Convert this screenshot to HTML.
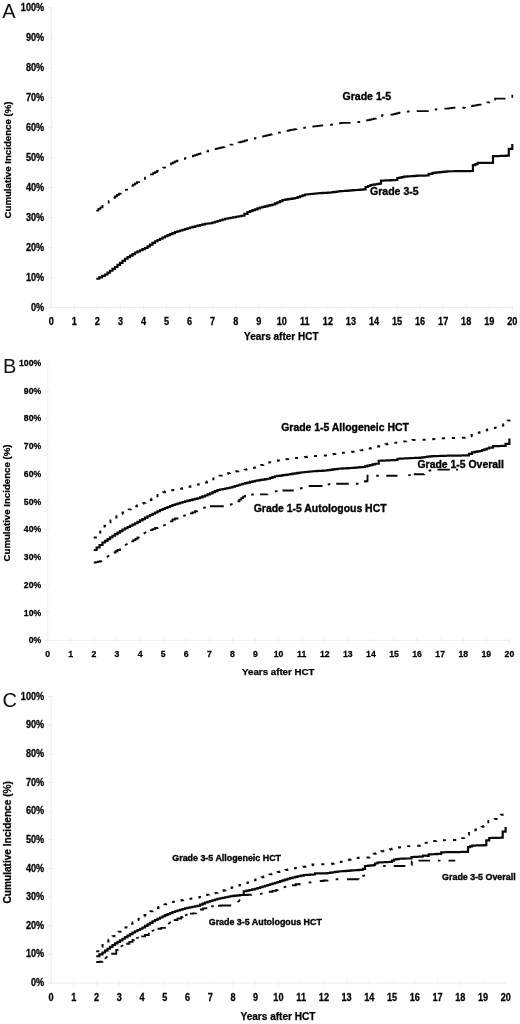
<!DOCTYPE html>
<html><head><meta charset="utf-8"><title>Cumulative incidence</title>
<style>html,body{margin:0;padding:0;background:#fff}body{width:520px;height:1024px;overflow:hidden;font-family:"Liberation Sans",sans-serif}svg{display:block;will-change:transform;opacity:.999}</style>
</head><body>
<svg width="520" height="1024" viewBox="0 0 520 1024">
<rect width="520" height="1024" fill="#fff"/>
<path d="M51.3 7.4V307.4H512.8" fill="none" stroke="#eaeaea" stroke-width="1"/>
<path d="M48.3 307.40H53.3M48.3 277.45H53.3M48.3 247.50H53.3M48.3 217.55H53.3M48.3 187.60H53.3M48.3 157.65H53.3M48.3 127.70H53.3M48.3 97.75H53.3M48.3 67.80H53.3M48.3 37.85H53.3M48.3 7.90H53.3M51.30 304.9V309.9M74.35 304.9V309.9M97.40 304.9V309.9M120.45 304.9V309.9M143.50 304.9V309.9M166.55 304.9V309.9M189.60 304.9V309.9M212.65 304.9V309.9M235.70 304.9V309.9M258.75 304.9V309.9M281.80 304.9V309.9M304.85 304.9V309.9M327.90 304.9V309.9M350.95 304.9V309.9M374.00 304.9V309.9M397.05 304.9V309.9M420.10 304.9V309.9M443.15 304.9V309.9M466.20 304.9V309.9M489.25 304.9V309.9M512.30 304.9V309.9" fill="none" stroke="#eeeeee" stroke-width="1"/>
<g font-family="Liberation Sans, sans-serif" font-weight="bold" font-size="9.15" fill="#000" stroke="#000" stroke-width="0.25">
<text transform="translate(44.2 306.90) scale(1 1.1)" y="3.28" text-anchor="end">0%</text>
<text transform="translate(44.2 276.95) scale(1 1.1)" y="3.28" text-anchor="end">10%</text>
<text transform="translate(44.2 247.00) scale(1 1.1)" y="3.28" text-anchor="end">20%</text>
<text transform="translate(44.2 217.05) scale(1 1.1)" y="3.28" text-anchor="end">30%</text>
<text transform="translate(44.2 187.10) scale(1 1.1)" y="3.28" text-anchor="end">40%</text>
<text transform="translate(44.2 157.15) scale(1 1.1)" y="3.28" text-anchor="end">50%</text>
<text transform="translate(44.2 127.20) scale(1 1.1)" y="3.28" text-anchor="end">60%</text>
<text transform="translate(44.2 97.25) scale(1 1.1)" y="3.28" text-anchor="end">70%</text>
<text transform="translate(44.2 67.30) scale(1 1.1)" y="3.28" text-anchor="end">80%</text>
<text transform="translate(44.2 37.35) scale(1 1.1)" y="3.28" text-anchor="end">90%</text>
<text transform="translate(44.2 7.40) scale(1 1.1)" y="3.28" text-anchor="end">100%</text>
<text transform="translate(51.30 321.2) scale(1 1.1)" y="3.28" text-anchor="middle">0</text>
<text transform="translate(74.35 321.2) scale(1 1.1)" y="3.28" text-anchor="middle">1</text>
<text transform="translate(97.40 321.2) scale(1 1.1)" y="3.28" text-anchor="middle">2</text>
<text transform="translate(120.45 321.2) scale(1 1.1)" y="3.28" text-anchor="middle">3</text>
<text transform="translate(143.50 321.2) scale(1 1.1)" y="3.28" text-anchor="middle">4</text>
<text transform="translate(166.55 321.2) scale(1 1.1)" y="3.28" text-anchor="middle">5</text>
<text transform="translate(189.60 321.2) scale(1 1.1)" y="3.28" text-anchor="middle">6</text>
<text transform="translate(212.65 321.2) scale(1 1.1)" y="3.28" text-anchor="middle">7</text>
<text transform="translate(235.70 321.2) scale(1 1.1)" y="3.28" text-anchor="middle">8</text>
<text transform="translate(258.75 321.2) scale(1 1.1)" y="3.28" text-anchor="middle">9</text>
<text transform="translate(281.80 321.2) scale(1 1.1)" y="3.28" text-anchor="middle">10</text>
<text transform="translate(304.85 321.2) scale(1 1.1)" y="3.28" text-anchor="middle">11</text>
<text transform="translate(327.90 321.2) scale(1 1.1)" y="3.28" text-anchor="middle">12</text>
<text transform="translate(350.95 321.2) scale(1 1.1)" y="3.28" text-anchor="middle">13</text>
<text transform="translate(374.00 321.2) scale(1 1.1)" y="3.28" text-anchor="middle">14</text>
<text transform="translate(397.05 321.2) scale(1 1.1)" y="3.28" text-anchor="middle">15</text>
<text transform="translate(420.10 321.2) scale(1 1.1)" y="3.28" text-anchor="middle">16</text>
<text transform="translate(443.15 321.2) scale(1 1.1)" y="3.28" text-anchor="middle">17</text>
<text transform="translate(466.20 321.2) scale(1 1.1)" y="3.28" text-anchor="middle">18</text>
<text transform="translate(489.25 321.2) scale(1 1.1)" y="3.28" text-anchor="middle">19</text>
<text transform="translate(512.30 321.2) scale(1 1.1)" y="3.28" text-anchor="middle">20</text>
</g>
<text font-family="Liberation Sans, sans-serif" font-weight="bold" font-size="10.0" fill="#000" stroke="#000" stroke-width="0.25" x="281.3" y="340.3" text-anchor="middle">Years after HCT</text>
<text font-family="Liberation Sans, sans-serif" font-weight="bold" font-size="9.66" fill="#000" stroke="#000" stroke-width="0.25" text-anchor="middle" transform="translate(11.06 160) rotate(-90)">Cumulative Incidence (%)</text>
<text font-family="Liberation Sans, sans-serif" font-size="20" fill="#111" x="2.2" y="18.4">A</text>
<polyline points="96.25,210.50 98.33,210.50 98.33,208.92 100.42,208.92 100.42,207.33 102.50,207.33 102.50,205.75 104.58,205.75 104.58,204.17 106.67,204.17 106.67,202.58 108.75,202.58 108.75,201.00 110.83,201.00 110.83,199.42 112.92,199.42 112.92,197.83 115.00,197.83 115.00,196.25 117.00,196.25 117.00,194.95 119.00,194.95 119.00,193.65 121.00,193.65 121.00,192.35 123.00,192.35 123.00,191.05 125.00,191.05 125.00,189.75 127.00,189.75 127.00,188.45 129.00,188.45 129.00,187.15 131.00,187.15 131.00,185.85 133.00,185.85 133.00,184.55 135.00,184.55 135.00,183.25 137.00,183.25 137.00,182.12 139.00,182.12 139.00,181.00 141.00,181.00 141.00,179.88 143.00,179.88 143.00,178.75 145.00,178.75 145.00,177.62 147.00,177.62 147.00,176.50 149.00,176.50 149.00,175.38 151.00,175.38 151.00,174.25 153.00,174.25 153.00,173.12 155.00,173.12 155.00,172.00 157.00,172.00 157.00,170.93 159.00,170.93 159.00,169.85 161.00,169.85 161.00,168.78 163.00,168.78 163.00,167.70 165.00,167.70 165.00,166.62 167.00,166.62 167.00,165.55 169.00,165.55 169.00,164.47 171.00,164.47 171.00,163.40 173.00,163.40 173.00,162.32 175.00,162.32 175.00,161.25 177.00,161.25 177.00,160.62 179.00,160.62 179.00,160.00 181.00,160.00 181.00,159.38 183.00,159.38 183.00,158.75 185.00,158.75 185.00,158.12 187.00,158.12 187.00,157.50 189.00,157.50 189.00,156.88 191.00,156.88 191.00,156.25 193.00,156.25 193.00,155.62 195.00,155.62 195.00,155.00 196.88,155.00 196.88,154.38 198.75,154.38 198.75,153.75 200.62,153.75 200.62,153.12 202.50,153.12 202.50,152.50 204.38,152.50 204.38,151.88 206.25,151.88 206.25,151.25 208.12,151.25 208.12,150.62 210.00,150.62 210.00,150.00 212.08,150.00 212.08,149.50 214.17,149.50 214.17,149.00 216.25,149.00 216.25,148.50 218.33,148.50 218.33,148.00 220.42,148.00 220.42,147.50 222.50,147.50 222.50,147.00 224.50,147.00 224.50,146.43 226.50,146.43 226.50,145.85 228.50,145.85 228.50,145.28 230.50,145.28 230.50,144.70 232.50,144.70 232.50,144.12 234.50,144.12 234.50,143.55 236.50,143.55 236.50,142.97 238.50,142.97 238.50,142.40 240.50,142.40 240.50,141.82 242.50,141.82 242.50,141.25 244.58,141.25 244.58,140.73 246.67,140.73 246.67,140.21 248.75,140.21 248.75,139.69 250.83,139.69 250.83,139.17 252.92,139.17 252.92,138.65 255.00,138.65 255.00,138.12 257.08,138.12 257.08,137.60 259.17,137.60 259.17,137.08 261.25,137.08 261.25,136.56 263.33,136.56 263.33,136.04 265.42,136.04 265.42,135.52 267.50,135.52 267.50,135.00 269.58,135.00 269.58,134.54 271.67,134.54 271.67,134.08 273.75,134.08 273.75,133.62 275.83,133.62 275.83,133.17 277.92,133.17 277.92,132.71 280.00,132.71 280.00,132.25 282.08,132.25 282.08,131.79 284.17,131.79 284.17,131.33 286.25,131.33 286.25,130.88 288.33,130.88 288.33,130.42 290.42,130.42 290.42,129.96 292.50,129.96 292.50,129.50 294.58,129.50 294.58,129.19 296.67,129.19 296.67,128.88 298.75,128.88 298.75,128.56 300.83,128.56 300.83,128.25 302.92,128.25 302.92,127.94 305.00,127.94 305.00,127.62 307.08,127.62 307.08,127.31 309.17,127.31 309.17,127.00 311.25,127.00 311.25,126.69 313.33,126.69 313.33,126.38 315.42,126.38 315.42,126.06 317.50,126.06 317.50,125.75 319.58,125.75 319.58,125.59 321.67,125.59 321.67,125.43 323.75,125.43 323.75,125.28 325.83,125.28 325.83,125.12 327.92,125.12 327.92,124.96 330.00,124.96 330.00,124.80 332.00,124.80 332.00,124.44 334.00,124.44 334.00,124.08 336.00,124.08 336.00,123.72 338.00,123.72 338.00,123.36 340.00,123.36 340.00,123.00 341.84,123.00 341.84,122.98 343.68,122.98 343.68,122.96 345.52,122.96 345.52,122.94 347.36,122.94 347.36,122.92 349.20,122.92 349.20,122.90 351.12,122.90 351.12,122.70 353.04,122.70 353.04,122.50 354.96,122.50 354.96,122.30 356.88,122.30 356.88,122.10 358.80,122.10 358.80,121.90 360.98,121.90 360.98,121.43 363.15,121.43 363.15,120.95 365.32,120.95 365.32,120.47 367.50,120.47 367.50,120.00 369.62,120.00 369.62,119.50 371.75,119.50 371.75,119.00 373.88,119.00 373.88,118.50 376.00,118.50 376.00,118.00 378.00,118.00 378.00,117.07 380.00,117.07 380.00,116.13 382.00,116.13 382.00,115.20 383.90,115.20 383.90,115.08 385.80,115.08 385.80,114.96 387.70,114.96 387.70,114.84 389.60,114.84 389.60,114.72 391.50,114.72 391.50,114.60 393.43,114.60 393.43,114.12 395.35,114.12 395.35,113.65 397.27,113.65 397.27,113.17 399.20,113.17 399.20,112.70 401.06,112.70 401.06,112.42 402.92,112.42 402.92,112.14 404.78,112.14 404.78,111.86 406.64,111.86 406.64,111.58 408.50,111.58 408.50,111.30 410.75,111.30 410.75,111.22 413.00,111.22 413.00,111.15 415.25,111.15 415.25,111.08 417.50,111.08 417.50,111.00 419.54,111.00 419.54,111.00 421.58,111.00 421.58,111.00 423.62,111.00 423.62,111.00 425.66,111.00 425.66,111.00 427.70,111.00 427.70,111.00 429.85,111.00 429.85,110.50 432.00,110.50 432.00,110.00 434.15,110.00 434.15,109.50 436.30,109.50 436.30,109.00 438.24,109.00 438.24,108.90 440.18,108.90 440.18,108.80 442.12,108.80 442.12,108.70 444.06,108.70 444.06,108.60 446.00,108.60 446.00,108.50 447.92,108.50 447.92,108.30 449.84,108.30 449.84,108.10 451.76,108.10 451.76,107.90 453.68,107.90 453.68,107.70 455.60,107.70 455.60,107.50 457.52,107.50 457.52,107.58 459.44,107.58 459.44,107.66 461.36,107.66 461.36,107.74 463.28,107.74 463.28,107.82 465.20,107.82 465.20,107.90 467.12,107.90 467.12,107.33 469.05,107.33 469.05,106.75 470.97,106.75 470.97,106.17 472.90,106.17 472.90,105.60 475.05,105.60 475.05,105.25 477.20,105.25 477.20,104.90 479.35,104.90 479.35,104.55 481.50,104.55 481.50,104.20 483.43,104.20 483.43,103.58 485.35,103.58 485.35,102.95 487.27,102.95 487.27,102.33 489.20,102.33 489.20,101.70 491.13,101.70 491.13,100.63 493.07,100.63 493.07,99.57 495.00,99.57 495.00,98.50 496.92,98.50 496.92,98.50 498.83,98.50 498.83,98.50 500.75,98.50 500.75,98.50 502.67,98.50 502.67,98.50 504.58,98.50 504.58,98.50 506.50,98.50 506.50,98.50 508.43,98.50 508.43,98.43 510.37,98.43 510.37,98.37 512.30,98.37 512.30,98.30 512.30,93.50" fill="none" stroke="#0a0a0a" stroke-width="1.75" stroke-linejoin="miter" stroke-dasharray="12 7.5 3 7.5"/>
<polyline points="96.25,278.75 99.17,278.75 99.17,277.33 102.08,277.33 102.08,275.92 105.00,275.92 105.00,274.50 107.50,274.50 107.50,272.62 110.00,272.62 110.00,270.75 112.50,270.75 112.50,268.88 115.00,268.88 115.00,267.00 117.50,267.00 117.50,264.94 120.00,264.94 120.00,262.88 122.50,262.88 122.50,260.81 125.00,260.81 125.00,258.75 127.50,258.75 127.50,257.19 130.00,257.19 130.00,255.62 132.50,255.62 132.50,254.06 135.00,254.06 135.00,252.50 137.50,252.50 137.50,251.38 140.00,251.38 140.00,250.25 142.50,250.25 142.50,249.12 145.00,249.12 145.00,248.00 147.50,248.00 147.50,246.31 150.00,246.31 150.00,244.62 152.50,244.62 152.50,242.94 155.00,242.94 155.00,241.25 157.50,241.25 157.50,240.00 160.00,240.00 160.00,238.75 162.50,238.75 162.50,237.50 165.00,237.50 165.00,236.25 167.50,236.25 167.50,235.19 170.00,235.19 170.00,234.12 172.50,234.12 172.50,233.06 175.00,233.06 175.00,232.00 177.50,232.00 177.50,231.25 180.00,231.25 180.00,230.50 182.50,230.50 182.50,229.75 185.00,229.75 185.00,229.00 187.50,229.00 187.50,228.25 190.00,228.25 190.00,227.50 192.50,227.50 192.50,226.88 195.00,226.88 195.00,226.25 197.50,226.25 197.50,225.62 200.00,225.62 200.00,225.00 202.50,225.00 202.50,224.38 205.00,224.38 205.00,223.75 207.50,223.75 207.50,223.50 210.00,223.50 210.00,223.25 212.50,223.25 212.50,222.50 215.00,222.50 215.00,221.75 217.50,221.75 217.50,221.00 220.00,221.00 220.00,220.25 222.50,220.25 222.50,219.50 225.00,219.50 225.00,218.75 227.71,218.75 227.71,218.25 230.42,218.25 230.42,217.75 233.12,217.75 233.12,217.25 235.83,217.25 235.83,216.75 238.54,216.75 238.54,216.25 241.25,216.25 241.25,215.75 244.38,215.75 244.38,213.88 247.50,213.88 247.50,212.00 250.00,212.00 250.00,211.10 252.50,211.10 252.50,210.20 255.00,210.20 255.00,209.30 257.50,209.30 257.50,208.40 260.00,208.40 260.00,207.50 262.50,207.50 262.50,206.90 265.00,206.90 265.00,206.30 267.50,206.30 267.50,205.70 270.00,205.70 270.00,205.10 272.50,205.10 272.50,204.50 275.00,204.50 275.00,203.38 277.50,203.38 277.50,202.25 280.00,202.25 280.00,201.12 282.50,201.12 282.50,200.00 285.00,200.00 285.00,199.60 287.50,199.60 287.50,199.20 290.00,199.20 290.00,198.80 292.50,198.80 292.50,198.40 295.00,198.40 295.00,198.00 297.50,198.00 297.50,197.12 300.00,197.12 300.00,196.25 302.50,196.25 302.50,195.38 305.00,195.38 305.00,194.50 307.50,194.50 307.50,194.25 310.00,194.25 310.00,194.00 312.50,194.00 312.50,193.75 315.00,193.75 315.00,193.50 317.50,193.50 317.50,193.25 320.00,193.25 320.00,193.10 322.50,193.10 322.50,192.95 325.00,192.95 325.00,192.80 327.50,192.80 327.50,192.65 330.00,192.65 330.00,192.50 332.40,192.50 332.40,192.18 334.80,192.18 334.80,191.85 337.20,191.85 337.20,191.52 339.60,191.52 339.60,191.20 342.28,191.20 342.28,191.00 344.96,191.00 344.96,190.80 347.64,190.80 347.64,190.60 350.32,190.60 350.32,190.40 353.00,190.40 353.00,190.20 355.52,190.20 355.52,190.00 358.04,190.00 358.04,189.80 360.56,189.80 360.56,189.60 363.08,189.60 363.08,189.40 365.60,189.40 365.60,189.20 365.60,187.00 368.00,187.00 368.00,186.00 370.40,186.00 370.40,185.00 372.80,185.00 372.80,184.62 375.20,184.62 375.20,184.25 377.60,184.25 377.60,183.88 380.00,183.88 380.00,183.50 381.00,183.50 381.00,180.60 383.40,180.60 383.40,180.50 385.80,180.50 385.80,180.40 388.20,180.40 388.20,180.30 390.60,180.30 390.60,180.20 393.00,180.20 393.00,180.10 395.40,180.10 395.40,180.00 397.30,180.00 397.30,178.00 399.53,178.00 399.53,177.57 401.77,177.57 401.77,177.13 404.00,177.13 404.00,176.70 406.65,176.70 406.65,176.47 409.30,176.47 409.30,176.25 411.95,176.25 411.95,176.03 414.60,176.03 414.60,175.80 417.22,175.80 417.22,175.72 419.84,175.72 419.84,175.64 422.46,175.64 422.46,175.56 425.08,175.56 425.08,175.48 427.70,175.48 427.70,175.40 428.70,175.40 428.70,173.80 432.50,173.80 432.50,172.90 434.92,172.90 434.92,172.63 437.33,172.63 437.33,172.37 439.75,172.37 439.75,172.10 442.17,172.10 442.17,171.83 444.58,171.83 444.58,171.57 447.00,171.57 447.00,171.30 449.56,171.30 449.56,171.27 452.11,171.27 452.11,171.23 454.67,171.23 454.67,171.20 457.22,171.20 457.22,171.17 459.78,171.17 459.78,171.13 462.33,171.13 462.33,171.10 464.89,171.10 464.89,171.07 467.44,171.07 467.44,171.03 470.00,171.03 470.00,171.00 472.90,171.00 472.90,165.20 475.30,165.20 475.30,164.05 477.70,164.05 477.70,162.90 480.46,162.90 480.46,162.90 483.22,162.90 483.22,162.90 485.98,162.90 485.98,162.90 488.74,162.90 488.74,162.90 491.50,162.90 491.50,162.90 493.00,162.90 493.00,156.20 495.63,156.20 495.63,156.10 498.27,156.10 498.27,156.00 500.90,156.00 500.90,155.90 503.53,155.90 503.53,155.80 506.17,155.80 506.17,155.70 508.80,155.70 508.80,155.60 508.80,148.80 512.30,148.80 512.30,148.50 512.30,144.00" fill="none" stroke="#0a0a0a" stroke-width="2.2" stroke-linejoin="miter"/>
<text font-family="Liberation Sans, sans-serif" font-weight="bold" font-size="10.55" fill="#000" stroke="#000" stroke-width="0.35" x="342.5" y="99.8">Grade 1-5</text>
<text font-family="Liberation Sans, sans-serif" font-weight="bold" font-size="10.55" fill="#000" stroke="#000" stroke-width="0.35" x="370" y="195.4">Grade 3-5</text>
<path d="M47.7 362.4V640.4H509.9" fill="none" stroke="#efefef" stroke-width="1"/>
<path d="M44.7 640.40H49.7M44.7 612.65H49.7M44.7 584.90H49.7M44.7 557.15H49.7M44.7 529.40H49.7M44.7 501.65H49.7M44.7 473.90H49.7M44.7 446.15H49.7M44.7 418.40H49.7M44.7 390.65H49.7M44.7 362.90H49.7M47.70 637.9V642.9M70.78 637.9V642.9M93.87 637.9V642.9M116.95 637.9V642.9M140.04 637.9V642.9M163.12 637.9V642.9M186.21 637.9V642.9M209.30 637.9V642.9M232.38 637.9V642.9M255.47 637.9V642.9M278.55 637.9V642.9M301.63 637.9V642.9M324.72 637.9V642.9M347.81 637.9V642.9M370.89 637.9V642.9M393.98 637.9V642.9M417.06 637.9V642.9M440.14 637.9V642.9M463.23 637.9V642.9M486.31 637.9V642.9M509.40 637.9V642.9" fill="none" stroke="#eeeeee" stroke-width="1"/>
<g font-family="Liberation Sans, sans-serif" font-weight="bold" font-size="8.68" fill="#000" stroke="#000" stroke-width="0.25">
<text transform="translate(41.2 639.90) scale(1 1.1)" y="3.11" text-anchor="end">0%</text>
<text transform="translate(41.2 612.15) scale(1 1.1)" y="3.11" text-anchor="end">10%</text>
<text transform="translate(41.2 584.40) scale(1 1.1)" y="3.11" text-anchor="end">20%</text>
<text transform="translate(41.2 556.65) scale(1 1.1)" y="3.11" text-anchor="end">30%</text>
<text transform="translate(41.2 528.90) scale(1 1.1)" y="3.11" text-anchor="end">40%</text>
<text transform="translate(41.2 501.15) scale(1 1.1)" y="3.11" text-anchor="end">50%</text>
<text transform="translate(41.2 473.40) scale(1 1.1)" y="3.11" text-anchor="end">60%</text>
<text transform="translate(41.2 445.65) scale(1 1.1)" y="3.11" text-anchor="end">70%</text>
<text transform="translate(41.2 417.90) scale(1 1.1)" y="3.11" text-anchor="end">80%</text>
<text transform="translate(41.2 390.15) scale(1 1.1)" y="3.11" text-anchor="end">90%</text>
<text transform="translate(41.2 362.40) scale(1 1.1)" y="3.11" text-anchor="end">100%</text>
<text transform="translate(47.70 653.8) scale(1 1.1)" y="3.11" text-anchor="middle">0</text>
<text transform="translate(70.78 653.8) scale(1 1.1)" y="3.11" text-anchor="middle">1</text>
<text transform="translate(93.87 653.8) scale(1 1.1)" y="3.11" text-anchor="middle">2</text>
<text transform="translate(116.95 653.8) scale(1 1.1)" y="3.11" text-anchor="middle">3</text>
<text transform="translate(140.04 653.8) scale(1 1.1)" y="3.11" text-anchor="middle">4</text>
<text transform="translate(163.12 653.8) scale(1 1.1)" y="3.11" text-anchor="middle">5</text>
<text transform="translate(186.21 653.8) scale(1 1.1)" y="3.11" text-anchor="middle">6</text>
<text transform="translate(209.30 653.8) scale(1 1.1)" y="3.11" text-anchor="middle">7</text>
<text transform="translate(232.38 653.8) scale(1 1.1)" y="3.11" text-anchor="middle">8</text>
<text transform="translate(255.47 653.8) scale(1 1.1)" y="3.11" text-anchor="middle">9</text>
<text transform="translate(278.55 653.8) scale(1 1.1)" y="3.11" text-anchor="middle">10</text>
<text transform="translate(301.63 653.8) scale(1 1.1)" y="3.11" text-anchor="middle">11</text>
<text transform="translate(324.72 653.8) scale(1 1.1)" y="3.11" text-anchor="middle">12</text>
<text transform="translate(347.81 653.8) scale(1 1.1)" y="3.11" text-anchor="middle">13</text>
<text transform="translate(370.89 653.8) scale(1 1.1)" y="3.11" text-anchor="middle">14</text>
<text transform="translate(393.98 653.8) scale(1 1.1)" y="3.11" text-anchor="middle">15</text>
<text transform="translate(417.06 653.8) scale(1 1.1)" y="3.11" text-anchor="middle">16</text>
<text transform="translate(440.14 653.8) scale(1 1.1)" y="3.11" text-anchor="middle">17</text>
<text transform="translate(463.23 653.8) scale(1 1.1)" y="3.11" text-anchor="middle">18</text>
<text transform="translate(486.31 653.8) scale(1 1.1)" y="3.11" text-anchor="middle">19</text>
<text transform="translate(509.40 653.8) scale(1 1.1)" y="3.11" text-anchor="middle">20</text>
</g>
<text font-family="Liberation Sans, sans-serif" font-weight="bold" font-size="9.73" fill="#000" stroke="#000" stroke-width="0.25" x="278.3" y="675" text-anchor="middle">Years after HCT</text>
<text font-family="Liberation Sans, sans-serif" font-weight="bold" font-size="9.66" fill="#000" stroke="#000" stroke-width="0.25" text-anchor="middle" transform="translate(9.96 503) rotate(-90)">Cumulative Incidence (%)</text>
<text font-family="Liberation Sans, sans-serif" font-size="20" fill="#111" x="3.0" y="372.7">B</text>
<polyline points="93.75,537.50 95.94,537.50 95.94,535.00 98.12,535.00 98.12,532.50 100.31,532.50 100.31,530.00 102.50,530.00 102.50,527.50 104.50,527.50 104.50,525.75 106.50,525.75 106.50,524.00 108.50,524.00 108.50,522.25 110.50,522.25 110.50,520.50 112.50,520.50 112.50,518.75 114.50,518.75 114.50,517.50 116.50,517.50 116.50,516.25 118.50,516.25 118.50,515.00 120.50,515.00 120.50,513.75 122.50,513.75 122.50,512.50 124.58,512.50 124.58,511.46 126.67,511.46 126.67,510.42 128.75,510.42 128.75,509.38 130.83,509.38 130.83,508.33 132.92,508.33 132.92,507.29 135.00,507.29 135.00,506.25 137.08,506.25 137.08,505.42 139.17,505.42 139.17,504.58 141.25,504.58 141.25,503.75 143.33,503.75 143.33,502.92 145.42,502.92 145.42,502.08 147.50,502.08 147.50,501.25 149.50,501.25 149.50,500.00 151.50,500.00 151.50,498.75 153.50,498.75 153.50,497.50 155.50,497.50 155.50,496.25 157.50,496.25 157.50,495.00 159.38,495.00 159.38,494.06 161.25,494.06 161.25,493.12 163.12,493.12 163.12,492.19 165.00,492.19 165.00,491.25 166.88,491.25 166.88,490.94 168.75,490.94 168.75,490.62 170.62,490.62 170.62,490.31 172.50,490.31 172.50,490.00 174.38,490.00 174.38,489.69 176.25,489.69 176.25,489.38 178.12,489.38 178.12,489.06 180.00,489.06 180.00,488.75 182.08,488.75 182.08,488.25 184.17,488.25 184.17,487.75 186.25,487.75 186.25,487.25 188.33,487.25 188.33,486.75 190.42,486.75 190.42,486.25 192.50,486.25 192.50,485.75 194.58,485.75 194.58,485.21 196.67,485.21 196.67,484.67 198.75,484.67 198.75,484.12 200.83,484.12 200.83,483.58 202.92,483.58 202.92,483.04 205.00,483.04 205.00,482.50 207.08,482.50 207.08,481.46 209.17,481.46 209.17,480.42 211.25,480.42 211.25,479.38 213.33,479.38 213.33,478.33 215.42,478.33 215.42,477.29 217.50,477.29 217.50,476.25 219.58,476.25 219.58,475.62 221.67,475.62 221.67,475.00 223.75,475.00 223.75,474.38 225.83,474.38 225.83,473.75 227.92,473.75 227.92,473.12 230.00,473.12 230.00,472.50 232.08,472.50 232.08,472.08 234.17,472.08 234.17,471.67 236.25,471.67 236.25,471.25 238.33,471.25 238.33,470.83 240.42,470.83 240.42,470.42 242.50,470.42 242.50,470.00 244.58,470.00 244.58,469.58 246.67,469.58 246.67,469.17 248.75,469.17 248.75,468.75 250.83,468.75 250.83,468.33 252.92,468.33 252.92,467.92 255.00,467.92 255.00,467.50 257.08,467.50 257.08,466.67 259.17,466.67 259.17,465.83 261.25,465.83 261.25,465.00 263.33,465.00 263.33,464.17 265.42,464.17 265.42,463.33 267.50,463.33 267.50,462.50 269.58,462.50 269.58,462.08 271.67,462.08 271.67,461.67 273.75,461.67 273.75,461.25 275.83,461.25 275.83,460.83 277.92,460.83 277.92,460.42 280.00,460.42 280.00,460.00 282.08,460.00 282.08,459.71 284.17,459.71 284.17,459.42 286.25,459.42 286.25,459.12 288.33,459.12 288.33,458.83 290.42,458.83 290.42,458.54 292.50,458.54 292.50,458.25 294.58,458.25 294.58,458.04 296.67,458.04 296.67,457.83 298.75,457.83 298.75,457.62 300.83,457.62 300.83,457.42 302.92,457.42 302.92,457.21 305.00,457.21 305.00,457.00 307.08,457.00 307.08,456.79 309.17,456.79 309.17,456.58 311.25,456.58 311.25,456.38 313.33,456.38 313.33,456.17 315.42,456.17 315.42,455.96 317.50,455.96 317.50,455.75 319.38,455.75 319.38,455.69 321.25,455.69 321.25,455.62 323.12,455.62 323.12,455.56 325.00,455.56 325.00,455.50 327.08,455.50 327.08,455.12 329.17,455.12 329.17,454.75 331.25,454.75 331.25,454.38 333.33,454.38 333.33,454.00 335.42,454.00 335.42,453.62 337.50,453.62 337.50,453.25 339.58,453.25 339.58,453.04 341.67,453.04 341.67,452.83 343.75,452.83 343.75,452.62 345.83,452.62 345.83,452.42 347.92,452.42 347.92,452.21 350.00,452.21 350.00,452.00 352.08,452.00 352.08,451.67 354.17,451.67 354.17,451.33 356.25,451.33 356.25,451.00 358.33,451.00 358.33,450.67 360.42,450.67 360.42,450.33 362.50,450.33 362.50,450.00 364.58,450.00 364.58,449.50 366.67,449.50 366.67,449.00 368.75,449.00 368.75,448.50 370.83,448.50 370.83,448.00 372.92,448.00 372.92,447.50 375.00,447.50 375.00,447.00 377.08,447.00 377.08,446.46 379.17,446.46 379.17,445.92 381.25,445.92 381.25,445.38 383.33,445.38 383.33,444.83 385.42,444.83 385.42,444.29 387.50,444.29 387.50,443.75 389.58,443.75 389.58,443.46 391.67,443.46 391.67,443.17 393.75,443.17 393.75,442.88 395.83,442.88 395.83,442.58 397.92,442.58 397.92,442.29 400.00,442.29 400.00,442.00 402.08,442.00 402.08,441.67 404.17,441.67 404.17,441.33 406.25,441.33 406.25,441.00 408.33,441.00 408.33,440.67 410.42,440.67 410.42,440.33 412.50,440.33 412.50,440.00 414.38,440.00 414.38,440.00 416.25,440.00 416.25,440.00 418.12,440.00 418.12,440.00 420.00,440.00 420.00,440.00 421.92,440.00 421.92,439.88 423.84,439.88 423.84,439.76 425.76,439.76 425.76,439.64 427.68,439.64 427.68,439.52 429.60,439.52 429.60,439.40 431.52,439.40 431.52,439.22 433.44,439.22 433.44,439.04 435.36,439.04 435.36,438.86 437.28,438.86 437.28,438.68 439.20,438.68 439.20,438.50 441.12,438.50 441.12,438.40 443.04,438.40 443.04,438.30 444.96,438.30 444.96,438.20 446.88,438.20 446.88,438.10 448.80,438.10 448.80,438.00 450.74,438.00 450.74,438.00 452.68,438.00 452.68,438.00 454.62,438.00 454.62,438.00 456.56,438.00 456.56,438.00 458.50,438.00 458.50,438.00 460.62,438.00 460.62,437.88 462.75,437.88 462.75,437.75 464.88,437.75 464.88,437.62 467.00,437.62 467.00,437.50 469.27,437.50 469.27,436.23 471.53,436.23 471.53,434.97 473.80,434.97 473.80,433.70 475.73,433.70 475.73,433.20 477.65,433.20 477.65,432.70 479.57,432.70 479.57,432.20 481.50,432.20 481.50,431.70 483.43,431.70 483.43,430.98 485.35,430.98 485.35,430.25 487.27,430.25 487.27,429.52 489.20,429.52 489.20,428.80 491.12,428.80 491.12,428.42 493.04,428.42 493.04,428.04 494.96,428.04 494.96,427.66 496.88,427.66 496.88,427.28 498.80,427.28 498.80,426.90 501.07,426.90 501.07,425.60 503.33,425.60 503.33,424.30 505.60,424.30 505.60,423.00 507.50,423.00 507.50,420.65 509.40,420.65 509.40,418.30" fill="none" stroke="#0a0a0a" stroke-width="1.9" stroke-linejoin="miter" stroke-dasharray="3.2 7.2"/>
<path d="M93.75 562.50L95.83 562.50L95.83 562.08L97.92 562.08L97.92 561.67L100.00 561.67L100.00 561.25L101.25 561.25L101.25 560.47M113.75 552.50L115.62 552.50L115.62 551.25L117.50 551.25L117.50 550.00L120.00 550.00L120.00 548.44M131.25 541.41L133.33 541.41L133.33 540.10L135.42 540.10L135.42 538.80L137.50 538.80L137.50 537.50L138.75 537.50L138.75 536.72M150.00 530.17L152.50 530.17L152.50 529.08L155.00 529.08L155.00 528.00L157.50 528.00L157.50 527.25M170.00 521.33L172.50 521.33L172.50 519.50L175.00 519.50L175.00 518.50L177.50 518.50L177.50 517.50L177.50 517.50M190.00 513.38L192.50 513.38L192.50 512.31L195.00 512.31L195.00 511.25L197.00 511.25L197.00 510.50M210.00 506.25L210.00 506.25L211.96 506.25L211.96 506.25L213.93 506.25L213.93 506.25L215.89 506.25L215.89 506.25L217.86 506.25L217.86 506.25L219.82 506.25L219.82 506.25L221.79 506.25L221.79 506.25L223.75 506.25L223.75 506.25L223.75 506.25M237.50 501.25L237.50 501.25L239.38 501.25L239.38 499.69L241.25 499.69L241.25 498.12L243.12 498.12L243.12 496.56L245.00 496.56L245.00 495.00L245.00 495.00M260.00 494.40L261.88 494.40L261.88 494.38L263.75 494.38L263.75 494.35L265.62 494.35L265.62 494.32L267.50 494.32L267.50 494.30L267.50 494.30M282.50 490.50L282.50 490.50L284.38 490.50L284.38 490.50L286.25 490.50L286.25 490.50L288.12 490.50L288.12 490.50L290.00 490.50L290.00 490.50L291.88 490.50L291.88 490.50L293.75 490.50L293.75 490.50L293.75 490.50M308.75 486.00L308.75 486.00L310.71 486.00L310.71 486.00L312.68 486.00L312.68 486.00L314.64 486.00L314.64 486.00L316.61 486.00L316.61 486.00L318.57 486.00L318.57 486.00L320.54 486.00L320.54 486.00L322.50 486.00L322.50 486.00L322.50 486.00M336.25 483.75L338.33 483.75L338.33 483.75L340.42 483.75L340.42 483.75L342.50 483.75L342.50 483.75L344.58 483.75L344.58 483.75L346.67 483.75L346.67 483.75L348.75 483.75L348.75 483.75M364.00 481.58L365.00 481.58L365.00 481.25L367.50 481.25L367.50 475.75L368.50 475.75L368.50 475.75M386.25 475.75L388.12 475.75L388.12 475.75L390.00 475.75L390.00 475.75L391.88 475.75L391.88 475.75L393.75 475.75L393.75 475.75L395.62 475.75L395.62 475.75L397.50 475.75L397.50 475.75M413.75 474.25L413.75 474.25L415.75 474.25L415.75 474.25L417.75 474.25L417.75 474.25L419.75 474.25L419.75 474.25L421.75 474.25L421.75 474.25L423.75 474.25L423.75 474.25L424.00 474.25L424.00 474.09M437.50 469.60L437.50 469.60L439.55 469.60L439.55 469.60L441.60 469.60L441.60 469.60L443.65 469.60L443.65 469.60L445.70 469.60L445.70 469.60L447.75 469.60L447.75 469.60L449.80 469.60L449.80 469.60M106.70 557.06L109.30 555.44M124.95 545.34L127.50 543.75L127.55 543.72M143.70 533.62L146.30 532.00M163.20 525.54L165.00 525.00L165.80 524.41M183.20 515.98L185.00 515.50L185.80 515.16M203.20 508.18L205.00 507.50L205.80 507.30M229.95 504.75L231.00 504.50L232.55 503.73M251.20 494.59L252.50 494.50L253.80 494.48M274.95 491.63L276.00 491.25L277.55 491.07M299.95 488.58L301.00 488.25L302.55 487.80M327.70 484.61L330.00 484.00L330.30 483.99M355.90 483.75L357.50 483.75L358.50 483.42M376.20 475.75L378.80 475.75M408.20 475.32L410.80 474.82M428.70 471.02L429.50 470.50L431.30 470.30M456.00 469.60L458.00 469.60" fill="none" stroke="#0a0a0a" stroke-width="1.85" stroke-linejoin="miter"/>
<polyline points="93.75,550.00 96.67,550.00 96.67,547.50 99.58,547.50 99.58,545.00 102.50,545.00 102.50,542.50 105.00,542.50 105.00,540.81 107.50,540.81 107.50,539.12 110.00,539.12 110.00,537.44 112.50,537.44 112.50,535.75 115.00,535.75 115.00,534.19 117.50,534.19 117.50,532.62 120.00,532.62 120.00,531.06 122.50,531.06 122.50,529.50 125.00,529.50 125.00,528.25 127.50,528.25 127.50,527.00 130.00,527.00 130.00,525.75 132.50,525.75 132.50,524.50 135.00,524.50 135.00,523.25 137.50,523.25 137.50,521.85 140.00,521.85 140.00,520.45 142.50,520.45 142.50,519.05 145.00,519.05 145.00,517.65 147.50,517.65 147.50,516.25 150.00,516.25 150.00,515.00 152.50,515.00 152.50,513.75 155.00,513.75 155.00,512.50 157.50,512.50 157.50,511.25 160.00,511.25 160.00,510.00 162.50,510.00 162.50,509.00 165.00,509.00 165.00,508.00 167.50,508.00 167.50,507.00 170.00,507.00 170.00,506.00 172.50,506.00 172.50,505.00 175.00,505.00 175.00,504.25 177.50,504.25 177.50,503.50 180.00,503.50 180.00,502.75 182.50,502.75 182.50,502.00 185.00,502.00 185.00,501.25 187.50,501.25 187.50,500.65 190.00,500.65 190.00,500.05 192.50,500.05 192.50,499.45 195.00,499.45 195.00,498.85 197.50,498.85 197.50,498.25 200.00,498.25 200.00,497.33 202.50,497.33 202.50,496.42 205.00,496.42 205.00,495.50 207.50,495.50 207.50,494.40 210.00,494.40 210.00,493.30 212.50,493.30 212.50,492.20 215.00,492.20 215.00,491.10 217.50,491.10 217.50,490.00 220.00,490.00 220.00,489.50 222.50,489.50 222.50,489.00 225.00,489.00 225.00,488.50 227.50,488.50 227.50,488.00 230.00,488.00 230.00,487.50 232.50,487.50 232.50,486.75 235.00,486.75 235.00,486.00 237.50,486.00 237.50,485.25 240.00,485.25 240.00,484.50 242.50,484.50 242.50,483.75 245.00,483.75 245.00,483.15 247.50,483.15 247.50,482.55 250.00,482.55 250.00,481.95 252.50,481.95 252.50,481.35 255.00,481.35 255.00,480.75 257.50,480.75 257.50,480.35 260.00,480.35 260.00,479.95 262.50,479.95 262.50,479.55 265.00,479.55 265.00,479.15 267.50,479.15 267.50,478.75 270.00,478.75 270.00,477.92 272.50,477.92 272.50,477.08 275.00,477.08 275.00,476.25 277.50,476.25 277.50,475.90 280.00,475.90 280.00,475.55 282.50,475.55 282.50,475.20 285.00,475.20 285.00,474.85 287.50,474.85 287.50,474.50 290.00,474.50 290.00,474.10 292.50,474.10 292.50,473.70 295.00,473.70 295.00,473.30 297.50,473.30 297.50,472.90 300.00,472.90 300.00,472.50 302.50,472.50 302.50,472.25 305.00,472.25 305.00,472.00 307.50,472.00 307.50,471.75 310.00,471.75 310.00,471.50 312.50,471.50 312.50,471.25 315.00,471.25 315.00,471.10 317.50,471.10 317.50,470.95 320.00,470.95 320.00,470.80 322.50,470.80 322.50,470.65 325.00,470.65 325.00,470.50 327.50,470.50 327.50,470.15 330.00,470.15 330.00,469.80 332.50,469.80 332.50,469.45 335.00,469.45 335.00,469.10 337.50,469.10 337.50,468.75 340.00,468.75 340.00,468.60 342.50,468.60 342.50,468.45 345.00,468.45 345.00,468.30 347.50,468.30 347.50,468.15 350.00,468.15 350.00,468.00 352.50,468.00 352.50,467.80 355.00,467.80 355.00,467.60 357.50,467.60 357.50,467.40 360.00,467.40 360.00,467.20 362.50,467.20 362.50,467.00 365.00,467.00 365.00,466.35 367.50,466.35 367.50,465.70 370.00,465.70 370.00,465.05 372.50,465.05 372.50,464.40 375.00,464.40 375.00,463.75 378.75,463.75 378.75,460.75 381.46,460.75 381.46,460.62 384.17,460.62 384.17,460.50 386.88,460.50 386.88,460.38 389.58,460.38 389.58,460.25 392.29,460.25 392.29,460.12 395.00,460.12 395.00,460.00 397.50,460.00 397.50,458.75 400.00,458.75 400.00,458.62 402.50,458.62 402.50,458.50 405.00,458.50 405.00,458.38 407.50,458.38 407.50,458.25 410.00,458.25 410.00,458.12 412.50,458.12 412.50,458.00 415.00,458.00 415.00,457.90 417.50,457.90 417.50,457.80 420.00,457.80 420.00,457.70 422.40,457.70 422.40,457.35 424.80,457.35 424.80,457.00 427.20,457.00 427.20,456.65 429.60,456.65 429.60,456.30 432.28,456.30 432.28,456.20 434.96,456.20 434.96,456.10 437.64,456.10 437.64,456.00 440.32,456.00 440.32,455.90 443.00,455.90 443.00,455.80 445.56,455.80 445.56,455.76 448.11,455.76 448.11,455.71 450.67,455.71 450.67,455.67 453.22,455.67 453.22,455.62 455.78,455.62 455.78,455.58 458.33,455.58 458.33,455.53 460.89,455.53 460.89,455.49 463.44,455.49 463.44,455.44 466.00,455.44 466.00,455.40 469.00,455.40 469.00,453.85 472.00,453.85 472.00,452.30 474.53,452.30 474.53,451.87 477.07,451.87 477.07,451.43 479.60,451.43 479.60,451.00 482.00,451.00 482.00,450.18 484.40,450.18 484.40,449.35 486.80,449.35 486.80,448.52 489.20,448.52 489.20,447.70 493.00,447.70 493.00,446.20 495.90,446.20 495.90,446.10 498.80,446.10 498.80,446.00 501.70,446.00 501.70,445.90 504.60,445.90 504.60,445.80 505.60,445.80 505.60,443.80 509.40,443.80 509.40,443.80 509.40,438.50" fill="none" stroke="#0a0a0a" stroke-width="2.2" stroke-linejoin="miter"/>
<text font-family="Liberation Sans, sans-serif" font-weight="bold" font-size="10.43" fill="#000" stroke="#000" stroke-width="0.35" x="281.25" y="431.25">Grade 1-5 Allogeneic HCT</text>
<text font-family="Liberation Sans, sans-serif" font-weight="bold" font-size="10.43" fill="#000" stroke="#000" stroke-width="0.35" x="417.5" y="467.7">Grade 1-5 Overall</text>
<text font-family="Liberation Sans, sans-serif" font-weight="bold" font-size="10.43" fill="#000" stroke="#000" stroke-width="0.35" x="253.75" y="512.3">Grade 1-5 Autologous HCT</text>
<path d="M51.0 696.0V983.0H506.3" fill="none" stroke="#eaeaea" stroke-width="1"/>
<path d="M48.0 983.00H53.0M48.0 954.35H53.0M48.0 925.70H53.0M48.0 897.05H53.0M48.0 868.40H53.0M48.0 839.75H53.0M48.0 811.10H53.0M48.0 782.45H53.0M48.0 753.80H53.0M48.0 725.15H53.0M48.0 696.50H53.0M51.00 980.5V985.5M73.74 980.5V985.5M96.48 980.5V985.5M119.22 980.5V985.5M141.96 980.5V985.5M164.70 980.5V985.5M187.44 980.5V985.5M210.18 980.5V985.5M232.92 980.5V985.5M255.66 980.5V985.5M278.40 980.5V985.5M301.14 980.5V985.5M323.88 980.5V985.5M346.62 980.5V985.5M369.36 980.5V985.5M392.10 980.5V985.5M414.84 980.5V985.5M437.58 980.5V985.5M460.32 980.5V985.5M483.06 980.5V985.5M505.80 980.5V985.5" fill="none" stroke="#eeeeee" stroke-width="1"/>
<g font-family="Liberation Sans, sans-serif" font-weight="bold" font-size="9.15" fill="#000" stroke="#000" stroke-width="0.25">
<text transform="translate(44.2 982.50) scale(1 1.1)" y="3.28" text-anchor="end">0%</text>
<text transform="translate(44.2 953.85) scale(1 1.1)" y="3.28" text-anchor="end">10%</text>
<text transform="translate(44.2 925.20) scale(1 1.1)" y="3.28" text-anchor="end">20%</text>
<text transform="translate(44.2 896.55) scale(1 1.1)" y="3.28" text-anchor="end">30%</text>
<text transform="translate(44.2 867.90) scale(1 1.1)" y="3.28" text-anchor="end">40%</text>
<text transform="translate(44.2 839.25) scale(1 1.1)" y="3.28" text-anchor="end">50%</text>
<text transform="translate(44.2 810.60) scale(1 1.1)" y="3.28" text-anchor="end">60%</text>
<text transform="translate(44.2 781.95) scale(1 1.1)" y="3.28" text-anchor="end">70%</text>
<text transform="translate(44.2 753.30) scale(1 1.1)" y="3.28" text-anchor="end">80%</text>
<text transform="translate(44.2 724.65) scale(1 1.1)" y="3.28" text-anchor="end">90%</text>
<text transform="translate(44.2 696.00) scale(1 1.1)" y="3.28" text-anchor="end">100%</text>
<text transform="translate(51.00 997.4) scale(1 1.1)" y="3.28" text-anchor="middle">0</text>
<text transform="translate(73.74 997.4) scale(1 1.1)" y="3.28" text-anchor="middle">1</text>
<text transform="translate(96.48 997.4) scale(1 1.1)" y="3.28" text-anchor="middle">2</text>
<text transform="translate(119.22 997.4) scale(1 1.1)" y="3.28" text-anchor="middle">3</text>
<text transform="translate(141.96 997.4) scale(1 1.1)" y="3.28" text-anchor="middle">4</text>
<text transform="translate(164.70 997.4) scale(1 1.1)" y="3.28" text-anchor="middle">5</text>
<text transform="translate(187.44 997.4) scale(1 1.1)" y="3.28" text-anchor="middle">6</text>
<text transform="translate(210.18 997.4) scale(1 1.1)" y="3.28" text-anchor="middle">7</text>
<text transform="translate(232.92 997.4) scale(1 1.1)" y="3.28" text-anchor="middle">8</text>
<text transform="translate(255.66 997.4) scale(1 1.1)" y="3.28" text-anchor="middle">9</text>
<text transform="translate(278.40 997.4) scale(1 1.1)" y="3.28" text-anchor="middle">10</text>
<text transform="translate(301.14 997.4) scale(1 1.1)" y="3.28" text-anchor="middle">11</text>
<text transform="translate(323.88 997.4) scale(1 1.1)" y="3.28" text-anchor="middle">12</text>
<text transform="translate(346.62 997.4) scale(1 1.1)" y="3.28" text-anchor="middle">13</text>
<text transform="translate(369.36 997.4) scale(1 1.1)" y="3.28" text-anchor="middle">14</text>
<text transform="translate(392.10 997.4) scale(1 1.1)" y="3.28" text-anchor="middle">15</text>
<text transform="translate(414.84 997.4) scale(1 1.1)" y="3.28" text-anchor="middle">16</text>
<text transform="translate(437.58 997.4) scale(1 1.1)" y="3.28" text-anchor="middle">17</text>
<text transform="translate(460.32 997.4) scale(1 1.1)" y="3.28" text-anchor="middle">18</text>
<text transform="translate(483.06 997.4) scale(1 1.1)" y="3.28" text-anchor="middle">19</text>
<text transform="translate(505.80 997.4) scale(1 1.1)" y="3.28" text-anchor="middle">20</text>
</g>
<text font-family="Liberation Sans, sans-serif" font-weight="bold" font-size="10.07" fill="#000" stroke="#000" stroke-width="0.25" x="278" y="1019.75" text-anchor="middle">Years after HCT</text>
<text font-family="Liberation Sans, sans-serif" font-weight="bold" font-size="10.1" fill="#000" stroke="#000" stroke-width="0.25" text-anchor="middle" transform="translate(11.42 842.3) rotate(-90)">Cumulative Incidence (%)</text>
<text font-family="Liberation Sans, sans-serif" font-size="20" fill="#111" x="2.4" y="706.6">C</text>
<polyline points="96.25,951.25 98.33,951.25 98.33,949.17 100.42,949.17 100.42,947.08 102.50,947.08 102.50,945.00 104.50,945.00 104.50,943.25 106.50,943.25 106.50,941.50 108.50,941.50 108.50,939.75 110.50,939.75 110.50,938.00 112.50,938.00 112.50,936.25 114.50,936.25 114.50,934.75 116.50,934.75 116.50,933.25 118.50,933.25 118.50,931.75 120.50,931.75 120.50,930.25 122.50,930.25 122.50,928.75 124.50,928.75 124.50,927.50 126.50,927.50 126.50,926.25 128.50,926.25 128.50,925.00 130.50,925.00 130.50,923.75 132.50,923.75 132.50,922.50 134.50,922.50 134.50,921.25 136.50,921.25 136.50,920.00 138.50,920.00 138.50,918.75 140.50,918.75 140.50,917.50 142.50,917.50 142.50,916.25 144.50,916.25 144.50,915.00 146.50,915.00 146.50,913.75 148.50,913.75 148.50,912.50 150.50,912.50 150.50,911.25 152.50,911.25 152.50,910.00 154.50,910.00 154.50,909.00 156.50,909.00 156.50,908.00 158.50,908.00 158.50,907.00 160.50,907.00 160.50,906.00 162.50,906.00 162.50,905.00 164.38,905.00 164.38,904.38 166.25,904.38 166.25,903.75 168.12,903.75 168.12,903.12 170.00,903.12 170.00,902.50 171.88,902.50 171.88,902.12 173.75,902.12 173.75,901.75 175.62,901.75 175.62,901.38 177.50,901.38 177.50,901.00 179.38,901.00 179.38,900.62 181.25,900.62 181.25,900.25 183.12,900.25 183.12,899.88 185.00,899.88 185.00,899.50 187.08,899.50 187.08,899.17 189.17,899.17 189.17,898.83 191.25,898.83 191.25,898.50 193.33,898.50 193.33,898.17 195.42,898.17 195.42,897.83 197.50,897.83 197.50,897.50 199.38,897.50 199.38,896.88 201.25,896.88 201.25,896.25 203.12,896.25 203.12,895.62 205.00,895.62 205.00,895.00 207.08,895.00 207.08,894.58 209.17,894.58 209.17,894.17 211.25,894.17 211.25,893.75 213.33,893.75 213.33,893.33 215.42,893.33 215.42,892.92 217.50,892.92 217.50,892.50 219.50,892.50 219.50,891.75 221.50,891.75 221.50,891.00 223.50,891.00 223.50,890.25 225.50,890.25 225.50,889.50 227.50,889.50 227.50,888.75 229.50,888.75 229.50,888.10 231.50,888.10 231.50,887.45 233.50,887.45 233.50,886.80 235.50,886.80 235.50,886.15 237.50,886.15 237.50,885.50 239.50,885.50 239.50,884.90 241.50,884.90 241.50,884.30 243.50,884.30 243.50,883.70 245.50,883.70 245.50,883.10 247.50,883.10 247.50,882.50 249.50,882.50 249.50,881.75 251.50,881.75 251.50,881.00 253.50,881.00 253.50,880.25 255.50,880.25 255.50,879.50 257.50,879.50 257.50,878.75 259.50,878.75 259.50,878.00 261.50,878.00 261.50,877.25 263.50,877.25 263.50,876.50 265.50,876.50 265.50,875.75 267.50,875.75 267.50,875.00 269.50,875.00 269.50,874.40 271.50,874.40 271.50,873.80 273.50,873.80 273.50,873.20 275.50,873.20 275.50,872.60 277.50,872.60 277.50,872.00 279.50,872.00 279.50,871.50 281.50,871.50 281.50,871.00 283.50,871.00 283.50,870.50 285.50,870.50 285.50,870.00 287.50,870.00 287.50,869.50 289.50,869.50 289.50,869.10 291.50,869.10 291.50,868.70 293.50,868.70 293.50,868.30 295.50,868.30 295.50,867.90 297.50,867.90 297.50,867.50 299.50,867.50 299.50,867.25 301.50,867.25 301.50,867.00 303.50,867.00 303.50,866.75 305.50,866.75 305.50,866.50 307.50,866.50 307.50,866.25 310.00,866.25 310.00,865.38 312.50,865.38 312.50,864.50 314.50,864.50 314.50,864.44 316.50,864.44 316.50,864.38 318.50,864.38 318.50,864.32 320.50,864.32 320.50,864.26 322.50,864.26 322.50,864.20 324.38,864.20 324.38,864.20 326.25,864.20 326.25,864.20 328.12,864.20 328.12,864.20 330.00,864.20 330.00,864.20 331.88,864.20 331.88,863.78 333.75,863.78 333.75,863.35 335.62,863.35 335.62,862.92 337.50,862.92 337.50,862.50 339.38,862.50 339.38,862.06 341.25,862.06 341.25,861.62 343.12,861.62 343.12,861.19 345.00,861.19 345.00,860.75 346.88,860.75 346.88,860.25 348.75,860.25 348.75,859.75 350.62,859.75 350.62,859.25 352.50,859.25 352.50,858.75 354.38,858.75 354.38,858.44 356.25,858.44 356.25,858.12 358.12,858.12 358.12,857.81 360.00,857.81 360.00,857.50 361.88,857.50 361.88,857.50 363.75,857.50 363.75,857.50 365.62,857.50 365.62,857.50 367.50,857.50 367.50,857.50 369.58,857.50 369.58,856.25 371.67,856.25 371.67,855.00 373.75,855.00 373.75,853.75 375.62,853.75 375.62,853.12 377.50,853.12 377.50,852.50 379.38,852.50 379.38,851.88 381.25,851.88 381.25,851.25 383.44,851.25 383.44,850.75 385.62,850.75 385.62,850.25 387.81,850.25 387.81,849.75 390.00,849.75 390.00,849.25 391.88,849.25 391.88,848.81 393.75,848.81 393.75,848.38 395.62,848.38 395.62,847.94 397.50,847.94 397.50,847.50 399.38,847.50 399.38,847.19 401.25,847.19 401.25,846.88 403.12,846.88 403.12,846.56 405.00,846.56 405.00,846.25 406.88,846.25 406.88,846.17 408.75,846.17 408.75,846.09 410.62,846.09 410.62,846.01 412.50,846.01 412.50,845.92 414.38,845.92 414.38,845.84 416.25,845.84 416.25,845.76 418.12,845.76 418.12,845.68 420.00,845.68 420.00,845.60 422.23,845.60 422.23,844.23 424.47,844.23 424.47,842.87 426.70,842.87 426.70,841.50 428.62,841.50 428.62,841.36 430.54,841.36 430.54,841.22 432.46,841.22 432.46,841.08 434.38,841.08 434.38,840.94 436.30,840.94 436.30,840.80 438.24,840.80 438.24,840.64 440.18,840.64 440.18,840.48 442.12,840.48 442.12,840.32 444.06,840.32 444.06,840.16 446.00,840.16 446.00,840.00 447.92,840.00 447.92,840.00 449.84,840.00 449.84,840.00 451.76,840.00 451.76,840.00 453.68,840.00 453.68,840.00 455.60,840.00 455.60,840.00 457.75,840.00 457.75,839.38 459.90,839.38 459.90,838.75 462.05,838.75 462.05,838.12 464.20,838.12 464.20,837.50 466.60,837.50 466.60,834.60 469.00,834.60 469.00,831.70 471.18,831.70 471.18,830.98 473.35,830.98 473.35,830.25 475.52,830.25 475.52,829.52 477.70,829.52 477.70,828.80 479.62,828.80 479.62,827.85 481.55,827.85 481.55,826.90 483.47,826.90 483.47,825.95 485.40,825.95 485.40,825.00 488.30,825.00 488.30,819.20 490.40,819.20 490.40,819.12 492.50,819.12 492.50,819.04 494.60,819.04 494.60,818.96 496.70,818.96 496.70,818.88 498.80,818.88 498.80,818.80 500.75,818.80 500.75,814.70 502.70,814.70 502.70,810.60 505.60,810.60 505.60,810.60" fill="none" stroke="#0a0a0a" stroke-width="1.9" stroke-linejoin="miter" stroke-dasharray="3.2 7.2"/>
<path d="M96.25 962.00L99.38 962.00L99.38 961.75L102.50 961.75L102.50 961.50L102.50 961.50M111.25 953.75L111.25 953.75L116.25 953.75L116.25 950.00L117.50 950.00L117.50 949.06M126.25 943.75L126.25 943.75L129.38 943.75L129.38 941.88L132.50 941.88L132.50 940.00L133.75 940.00L133.75 939.42M141.25 936.39L145.00 936.39L145.00 935.00L148.75 935.00L148.75 932.86M157.50 928.75L157.50 928.75L161.25 928.75L161.25 927.88L165.00 927.88L165.00 927.00L165.00 927.00M173.75 920.00L173.75 920.00L177.50 920.00L177.50 918.50L181.25 918.50L181.25 917.00L182.50 917.00L182.50 916.50M190.00 913.62L193.12 913.62L193.12 913.31L196.25 913.31L196.25 913.00L196.25 913.00M200.00 909.50L200.00 909.50L203.12 909.50L203.12 908.35L206.25 908.35L206.25 907.20L206.25 907.20M218.00 905.78L221.25 905.78L221.25 905.50L224.58 905.50L224.58 905.50L227.92 905.50L227.92 905.50L231.25 905.50L231.25 905.50L231.25 905.50M243.75 895.00L243.75 895.00L247.50 895.00L247.50 894.75L251.25 894.75L251.25 894.50L251.25 894.50M268.80 891.70L272.52 891.70L272.52 890.85L276.25 890.85L276.25 890.00L277.50 890.00L277.50 889.50M292.00 885.29L295.80 885.29L295.80 884.20L299.60 884.20L299.60 883.11M319.80 880.96L323.65 880.96L323.65 880.48L327.50 880.48L327.50 880.00L327.50 880.00M346.90 879.26L350.85 879.26L350.85 879.27L354.80 879.27L354.80 879.29L358.75 879.29L358.75 879.30L358.75 879.30M393.75 866.00L397.63 866.00L397.63 866.00L401.52 866.00L401.52 866.00L405.40 866.00L405.40 866.00L405.40 866.00M411.70 865.02L411.80 865.02L411.80 865.00L411.80 861.50L411.90 861.50L411.90 861.47M418.50 860.60L422.33 860.60L422.33 860.60L426.17 860.60L426.17 860.60L430.00 860.60L430.00 860.60M448.50 860.60L451.90 860.60L451.90 860.60L455.30 860.60L455.30 860.60M104.95 958.89L106.25 957.50L107.55 956.52M120.70 946.66L121.25 946.25L123.30 945.23M136.20 938.27L136.25 938.25L138.80 937.30M151.70 931.17L152.00 931.00L154.30 930.06M168.20 924.12L170.00 922.50L170.80 921.97M184.95 915.52L185.00 915.50L187.55 914.31M211.20 906.45L212.50 906.25L213.80 906.14M237.45 901.99L238.75 901.25L240.05 899.62M259.95 893.85L261.25 893.75L262.55 893.39M283.70 887.23L286.30 886.63M308.70 882.54L309.50 882.50L311.30 882.22M335.70 879.22L338.30 879.23M362.45 876.24L362.50 876.20L365.05 875.35M383.10 866.00L385.00 866.00L385.70 866.00M437.90 860.60L440.50 860.60" fill="none" stroke="#0a0a0a" stroke-width="1.85" stroke-linejoin="miter"/>
<polyline points="96.25,956.25 99.38,956.25 99.38,954.38 102.50,954.38 102.50,952.50 105.00,952.50 105.00,950.62 107.50,950.62 107.50,948.75 110.00,948.75 110.00,946.88 112.50,946.88 112.50,945.00 115.00,945.00 115.00,943.44 117.50,943.44 117.50,941.88 120.00,941.88 120.00,940.31 122.50,940.31 122.50,938.75 125.00,938.75 125.00,937.19 127.50,937.19 127.50,935.62 130.00,935.62 130.00,934.06 132.50,934.06 132.50,932.50 135.00,932.50 135.00,931.25 137.50,931.25 137.50,930.00 140.00,930.00 140.00,928.75 142.50,928.75 142.50,927.50 145.00,927.50 145.00,925.94 147.50,925.94 147.50,924.38 150.00,924.38 150.00,922.81 152.50,922.81 152.50,921.25 155.00,921.25 155.00,920.00 157.50,920.00 157.50,918.75 160.00,918.75 160.00,917.50 162.50,917.50 162.50,916.25 165.00,916.25 165.00,915.19 167.50,915.19 167.50,914.12 170.00,914.12 170.00,913.06 172.50,913.06 172.50,912.00 175.00,912.00 175.00,911.25 177.50,911.25 177.50,910.50 180.00,910.50 180.00,909.75 182.50,909.75 182.50,909.00 185.00,909.00 185.00,908.25 187.50,908.25 187.50,907.75 190.00,907.75 190.00,907.25 192.50,907.25 192.50,906.75 195.00,906.75 195.00,906.25 197.50,906.25 197.50,905.75 200.00,905.75 200.00,904.67 202.50,904.67 202.50,903.58 205.00,903.58 205.00,902.50 207.50,902.50 207.50,901.75 210.00,901.75 210.00,901.00 212.50,901.00 212.50,900.25 215.00,900.25 215.00,899.50 217.50,899.50 217.50,898.75 220.00,898.75 220.00,898.25 222.50,898.25 222.50,897.75 225.00,897.75 225.00,897.25 227.50,897.25 227.50,896.75 230.00,896.75 230.00,896.25 232.50,896.25 232.50,895.94 235.00,895.94 235.00,895.62 237.50,895.62 237.50,895.31 240.00,895.31 240.00,895.00 243.75,895.00 243.75,891.25 246.56,891.25 246.56,890.62 249.38,890.62 249.38,890.00 252.19,890.00 252.19,889.38 255.00,889.38 255.00,888.75 257.50,888.75 257.50,888.00 260.00,888.00 260.00,887.25 262.50,887.25 262.50,886.50 265.00,886.50 265.00,885.75 267.50,885.75 267.50,885.00 270.00,885.00 270.00,884.25 272.50,884.25 272.50,883.50 275.00,883.50 275.00,882.75 277.50,882.75 277.50,882.00 280.00,882.00 280.00,881.19 282.50,881.19 282.50,880.38 285.00,880.38 285.00,879.56 287.50,879.56 287.50,878.75 290.00,878.75 290.00,878.12 292.50,878.12 292.50,877.50 295.00,877.50 295.00,876.88 297.50,876.88 297.50,876.25 300.62,876.25 300.62,875.62 303.75,875.62 303.75,875.00 306.67,875.00 306.67,874.83 309.58,874.83 309.58,874.67 312.50,874.67 312.50,874.50 315.00,874.50 315.00,873.25 317.50,873.25 317.50,873.29 320.00,873.29 320.00,873.33 322.50,873.33 322.50,873.36 325.00,873.36 325.00,873.40 327.50,873.40 327.50,873.02 330.00,873.02 330.00,872.64 332.50,872.64 332.50,872.26 335.00,872.26 335.00,871.88 337.50,871.88 337.50,871.50 340.31,871.50 340.31,871.27 343.12,871.27 343.12,871.05 345.94,871.05 345.94,870.83 348.75,870.83 348.75,870.60 351.25,870.60 351.25,870.43 353.75,870.43 353.75,870.26 356.25,870.26 356.25,870.09 358.75,870.09 358.75,869.92 361.25,869.92 361.25,869.75 363.00,869.75 363.00,868.80 365.00,868.80 365.00,866.00 367.92,866.00 367.92,865.67 370.83,865.67 370.83,865.33 373.75,865.33 373.75,865.00 375.00,865.00 375.00,863.50 377.50,863.50 377.50,862.50 380.00,862.50 380.00,862.38 382.50,862.38 382.50,862.26 385.00,862.26 385.00,862.14 387.50,862.14 387.50,862.02 390.00,862.02 390.00,861.90 392.00,861.90 392.00,860.70 394.00,860.70 394.00,859.50 396.38,859.50 396.38,859.12 398.75,859.12 398.75,858.75 401.88,858.75 401.88,858.62 405.00,858.62 405.00,858.50 407.50,858.50 407.50,858.50 410.00,858.50 410.00,858.50 411.50,858.50 411.50,857.00 414.12,857.00 414.12,856.88 416.75,856.88 416.75,856.75 419.38,856.75 419.38,856.62 422.00,856.62 422.00,856.50 423.00,856.50 423.00,855.50 425.35,855.50 425.35,855.65 427.70,855.65 427.70,855.80 428.70,855.80 428.70,854.40 431.57,854.40 431.57,854.25 434.45,854.25 434.45,854.10 437.32,854.10 437.32,853.95 440.20,853.95 440.20,853.80 441.20,853.80 441.20,852.30 443.76,852.30 443.76,852.26 446.31,852.26 446.31,852.21 448.87,852.21 448.87,852.17 451.42,852.17 451.42,852.12 453.98,852.12 453.98,852.08 456.53,852.08 456.53,852.03 459.09,852.03 459.09,851.99 461.64,851.99 461.64,851.94 464.20,851.94 464.20,851.90 468.00,851.90 468.00,847.10 470.00,847.10 470.00,846.35 472.00,846.35 472.00,845.60 474.48,845.60 474.48,845.52 476.96,845.52 476.96,845.44 479.44,845.44 479.44,845.36 481.92,845.36 481.92,845.28 484.40,845.28 484.40,845.20 486.30,845.20 486.30,840.40 489.20,840.40 489.20,838.00 491.70,838.00 491.70,837.94 494.20,837.94 494.20,837.88 496.70,837.88 496.70,837.82 499.20,837.82 499.20,837.76 501.70,837.76 501.70,837.70 502.70,837.70 502.70,831.70 505.60,831.70 505.60,830.80 505.60,827.00" fill="none" stroke="#0a0a0a" stroke-width="2.2" stroke-linejoin="miter"/>
<text font-family="Liberation Sans, sans-serif" font-weight="bold" font-size="8.9" fill="#000" stroke="#000" stroke-width="0.35" x="172.3" y="861.25">Grade 3-5 Allogeneic HCT</text>
<text font-family="Liberation Sans, sans-serif" font-weight="bold" font-size="8.9" fill="#000" stroke="#000" stroke-width="0.35" x="442.1" y="879.7">Grade 3-5 Overall</text>
<text font-family="Liberation Sans, sans-serif" font-weight="bold" font-size="8.9" fill="#000" stroke="#000" stroke-width="0.35" x="208.75" y="925">Grade 3-5 Autologous HCT</text>
</svg>
</body></html>
